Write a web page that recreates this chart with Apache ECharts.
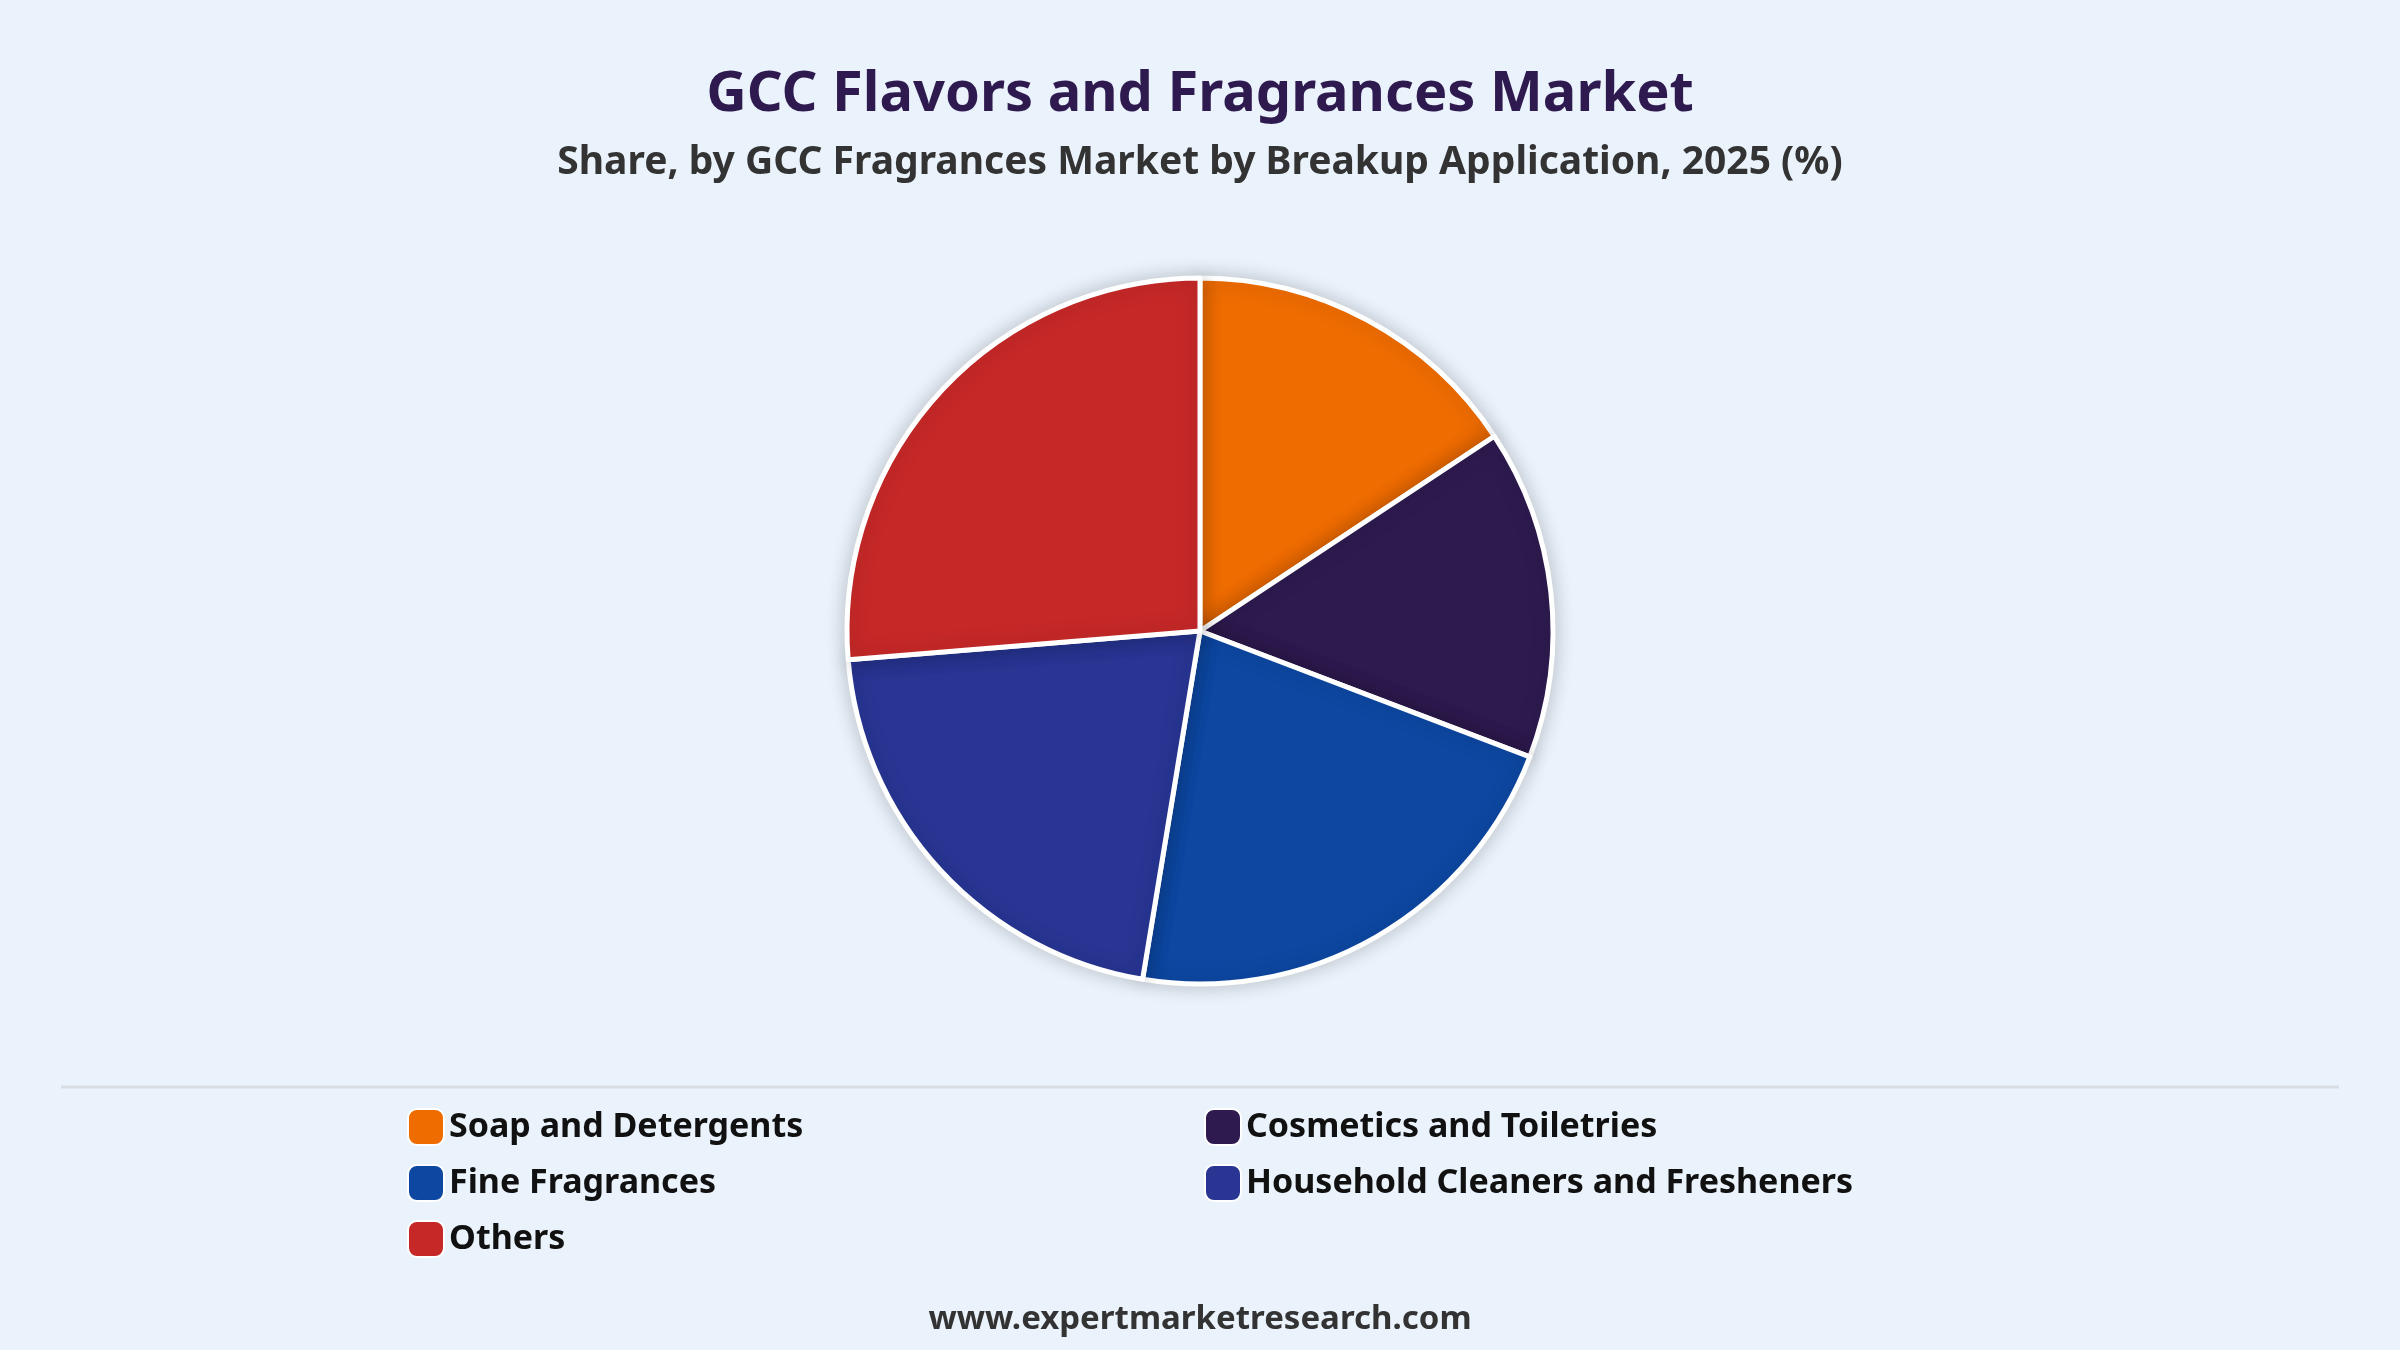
<!DOCTYPE html>
<html><head><meta charset="utf-8">
<script src="https://cdn.jsdelivr.net/npm/echarts@6/dist/echarts.min.js"></script>
<style>html,body{margin:0;padding:0;background:#eaf2fb;}#c{width:2400px;height:1350px;}</style>
</head><body><div id="c"></div>
<script>
const categories = ["Soap and Detergents","Cosmetics and Toiletries","Fine Fragrances","Household Cleaners and Fresheners","Others"];
const values = [15.7, 15.1, 21.8, 21.1, 26.3];
const colors = ["#ef6c00","#2e1a4f","#0d47a1","#283593","#c62828"];
const chart = echarts.init(document.getElementById('c'));
const legendText = {fontFamily:"Noto Sans",fontSize:34,fontWeight:"bold",color:"#111"};
chart.setOption({
  backgroundColor:"#eaf2fb",
  color: colors,
  title:[
    {text:"GCC Flavors and Fragrances Market",left:"center",top:62,textStyle:{fontFamily:"Noto Sans",fontSize:56,fontWeight:"bold",color:"#2e1a4f"}},
    {text:"Share, by GCC Fragrances Market by Breakup Application, 2025 (%)",left:"center",top:138,textStyle:{fontFamily:"Noto Sans",fontSize:39,fontWeight:"bold",color:"#333"}},
    {text:"www.expertmarketresearch.com",left:"center",top:1298,textStyle:{fontFamily:"Noto Sans",fontSize:33,fontWeight:"bold",color:"#333"}}
  ],
  legend:[
    {data:[categories[0],categories[2],categories[4]],orient:"vertical",left:402,top:1103,itemWidth:36,itemHeight:36,itemGap:18,icon:"roundRect",textStyle:legendText},
    {data:[categories[1],categories[3]],orient:"vertical",left:1199,top:1103,itemWidth:36,itemHeight:36,itemGap:18,icon:"roundRect",textStyle:legendText}
  ],
  graphic:[{type:"line",shape:{x1:61,y1:1087,x2:2339,y2:1087},style:{stroke:"#d8dde3",lineWidth:3}}],
  series:[{
    type:"pie",center:[1200,631],radius:[0,353],startAngle:90,clockwise:true,
    label:{show:false},labelLine:{show:false},
    itemStyle:{borderColor:"#fff",borderWidth:5,shadowBlur:20,shadowColor:"rgba(0,0,0,0.2)"},
    emphasis:{disabled:true},
    data:categories.map((n,i)=>({name:n,value:values[i]}))
  }]
});
</script></body></html>
